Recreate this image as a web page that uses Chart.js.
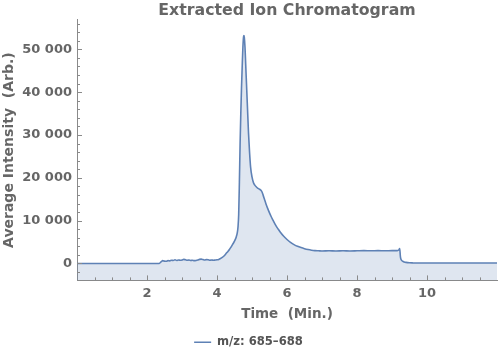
<!DOCTYPE html>
<html>
<head>
<meta charset="utf-8">
<script src="https://cdn.jsdelivr.net/npm/chart.js@4/dist/chart.umd.min.js"></script>
<style>
  html, body { margin: 0; padding: 0; background: #fff; }
  #c { display: block; }
</style>
</head>
<body>
<canvas id="c" width="500" height="358"></canvas>
<script>
// ── data ──
const timeMin = [
  0, 1, 2, 2.35, 2.4, 2.45, 2.5, 2.55, 2.6, 2.65, 2.7, 2.75, 2.8, 2.85, 2.9, 2.95,
  3.0, 3.05, 3.1, 3.15, 3.2, 3.25, 3.3, 3.35, 3.4, 3.45, 3.5, 3.55, 3.6, 3.65, 3.7, 3.75, 3.8, 3.85, 3.9, 3.95,
  4.0, 4.05, 4.1, 4.15, 4.2, 4.25, 4.3, 4.35, 4.4, 4.45, 4.5, 4.55, 4.58,
  4.6, 4.62, 4.64, 4.66, 4.68, 4.7, 4.72, 4.74, 4.76, 4.77, 4.78,
  4.8, 4.82, 4.85, 4.88, 4.9, 4.93, 4.96,
  5.0, 5.04, 5.08, 5.12, 5.16, 5.2, 5.24, 5.28, 5.32, 5.36, 5.4, 5.45, 5.5, 5.55, 5.6, 5.65, 5.7, 5.75, 5.8, 5.9,
  6.0, 6.1, 6.2, 6.3, 6.4, 6.5, 6.6, 6.7, 6.8, 6.9,
  7.0, 7.2, 7.4, 7.6, 7.8, 8.0, 8.2, 8.4, 8.6, 8.8, 9.0, 9.15,
  9.2, 9.22, 9.24, 9.26, 9.3, 9.35, 9.4, 9.5, 9.6, 9.8, 10, 11, 12
];
const intensity = [
  0, 0, 0, 0, 350, 650, 550, 500, 650, 600, 750, 700, 850, 700, 800, 750,
  800, 950, 850, 750, 800, 700, 750, 650, 700, 800, 950, 1000, 900, 800, 900, 850, 750, 800, 750, 800,
  850, 950, 1150, 1400, 1750, 2200, 2700, 3200, 3800, 4500, 5200, 6200, 7200,
  8500, 11500, 19000, 28000, 35000, 41000, 46000, 50500, 53000, 53200, 52800,
  50500, 46500, 40500, 34500, 30500, 26000, 22500,
  20200, 18900, 18300, 17900, 17600, 17400, 17200, 16800, 15900, 14900, 13900, 12800, 11800, 10900, 10100, 9300, 8600, 8000, 7400, 6400,
  5600, 4900, 4400, 4000, 3700, 3450, 3250, 3100, 3000, 2950,
  2900, 2950, 2900, 2950, 2900, 2950, 3000, 2950, 3000, 2950, 3000, 3000,
  3200, 3500, 1600, 900, 550, 350, 250, 150, 120, 100, 100, 100, 100
];
const xMajorTicks = [2, 4, 6, 8, 10];
const xMinorTicks = [0.5, 1, 1.5, 2.5, 3, 3.5, 4.5, 5, 5.5, 6.5, 7, 7.5, 8.5, 9, 9.5, 10.5, 11, 11.5];
const yMajorTicks = [0, 10000, 20000, 30000, 40000, 50000];
const yMinorTicks = [-2000, 2000, 4000, 6000, 8000, 12000, 14000, 16000, 18000, 22000, 24000, 26000, 28000,
  32000, 34000, 36000, 38000, 42000, 44000, 46000, 48000, 52000, 54000, 56000];

const TXT = '#666666';
const LINE = '#5e81b5';
const FONT = "'DejaVu Sans', sans-serif";

const points = timeMin.map((t, i) => ({ x: t, y: intensity[i] }));

function fmtThousands(v) {
  return String(v).replace(/\B(?=(\d{3})+(?!\d))/g, ' ');
}

// inward tick marks, like the original frame
const frameTicks = {
  id: 'frameTicks',
  afterDraw(chart) {
    const { ctx, chartArea: a, scales: { x, y } } = chart;
    ctx.save();
    ctx.strokeStyle = '#8a8a8a';
    ctx.lineWidth = 1;
    ctx.beginPath();
    xMajorTicks.forEach(v => { const p = Math.round(x.getPixelForValue(v)) + 0.5; ctx.moveTo(p, a.bottom); ctx.lineTo(p, a.bottom - 5); });
    xMinorTicks.forEach(v => { const p = Math.round(x.getPixelForValue(v)) + 0.5; ctx.moveTo(p, a.bottom); ctx.lineTo(p, a.bottom - 3); });
    yMajorTicks.forEach(v => { const p = Math.round(y.getPixelForValue(v)) + 0.5; ctx.moveTo(a.left, p); ctx.lineTo(a.left + 5, p); });
    yMinorTicks.forEach(v => { const p = Math.round(y.getPixelForValue(v)) + 0.5; ctx.moveTo(a.left, p); ctx.lineTo(a.left + 3, p); });
    ctx.stroke();
    ctx.restore();
  }
};

new Chart(document.getElementById('c'), {
  type: 'line',
  data: {
    datasets: [{
      label: 'm/z: 685\u2013688',
      data: points,
      borderColor: LINE,
      borderWidth: 1.6,
      borderJoinStyle: 'round',
      borderCapStyle: 'round',
      backgroundColor: 'rgba(94,129,181,0.2)',
      fill: 'start',
      pointRadius: 0,
      cubicInterpolationMode: 'monotone'   // also avoids the per-pixel fast path
    }]
  },
  options: {
    responsive: false,
    animation: false,
    devicePixelRatio: 1,
    layout: { padding: { left: 0, right: 3, top: 0, bottom: 0 } },
    plugins: {
      title: {
        display: true,
        text: 'Extracted Ion Chromatogram',
        fullSize: false,
        color: TXT,
        font: { family: FONT, size: 15.75, weight: 'bold', lineHeight: 1.2 },
        padding: { top: 1, bottom: 0 }
      },
      legend: {
        position: 'bottom',
        labels: {
          usePointStyle: true,
          pointStyle: 'line',
          pointStyleWidth: 17,
          color: '#555555',
          padding: 14,
          font: { family: FONT, size: 11.6, weight: 'bold' }
        }
      },
      tooltip: { enabled: false }
    },
    scales: {
      x: {
        type: 'linear',
        min: 0,
        max: 12,
        afterBuildTicks: s => { s.ticks = xMajorTicks.map(v => ({ value: v })); },
        afterFit: s => { s.height = 42; },
        grid: { display: false, drawTicks: false },
        border: { display: true, color: '#8a8a8a', width: 1 },
        ticks: { color: TXT, padding: 5, maxRotation: 0, font: { family: FONT, size: 13, weight: 'bold' } },
        title: {
          display: true,
          text: 'Time  (Min.)',
          color: TXT,
          padding: 0,
          font: { family: FONT, size: 13.5, weight: 'bold', lineHeight: 1.2 }
        }
      },
      y: {
        min: -3960,
        max: 56880,
        afterBuildTicks: s => { s.ticks = yMajorTicks.map(v => ({ value: v })); },
        afterFit: s => { s.width = 77; },
        grid: { display: false, drawTicks: false },
        border: { display: true, color: '#8a8a8a', width: 1 },
        ticks: {
          color: TXT, padding: 5,
          font: { family: FONT, size: 13, weight: 'bold' },
          callback: v => fmtThousands(v)
        },
        title: {
          display: true,
          text: 'Average Intensity  (Arb.)',
          color: TXT,
          padding: { top: 1, bottom: 0 },
          font: { family: FONT, size: 14, weight: 'bold', lineHeight: 1.2 }
        }
      }
    }
  },
  plugins: [frameTicks]
});
</script>
</body>
</html>
